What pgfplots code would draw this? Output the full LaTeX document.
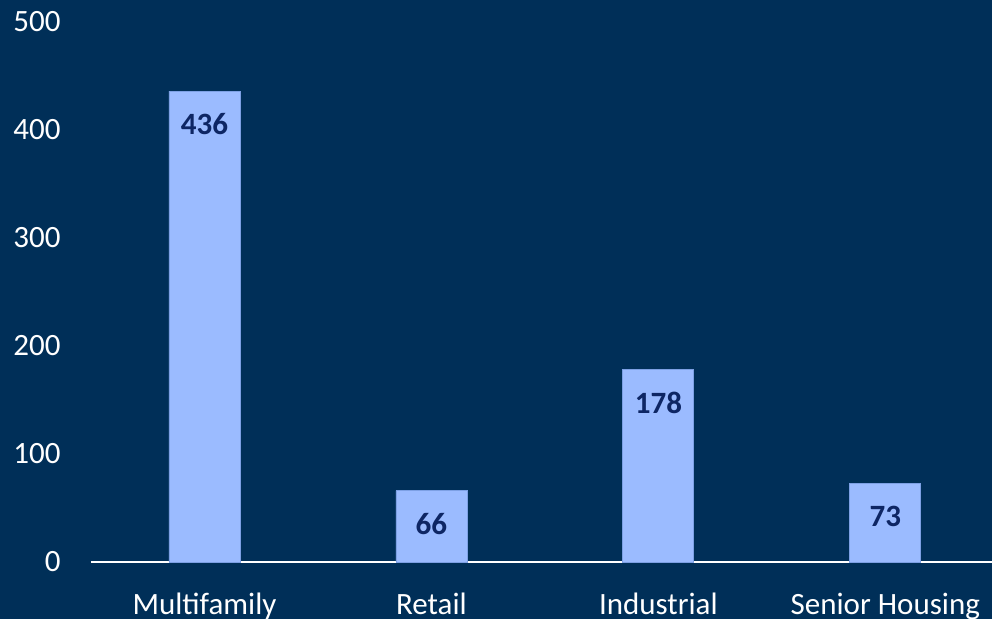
\documentclass[border=0pt]{standalone}
\usepackage{pgfplots}
\pgfplotsset{compat=1.18}
\usepackage{fontspec}
\setmainfont{Carlito}
\definecolor{bgnavy}{RGB}{0,47,88}
\definecolor{barfill}{RGB}{155,187,255}
\definecolor{baredge}{RGB}{125,160,228}
\definecolor{lblnavy}{RGB}{14,38,100}
\begin{document}
\begin{tikzpicture}
\fill[bgnavy] (0,0) rectangle (496pt,309.5pt);
\begin{axis}[
    at={(45.5pt,28.5pt)}, anchor=south west,
    scale only axis,
    width=450.5pt, height=270pt,
    ybar, bar width=35.5pt, bar shift=0pt,
    xmin=-0.5, xmax=3.47,
    ymin=0, ymax=500,
    xtick={0,1,2,3},
    xticklabels={Multifamily, Retail, Industrial, Senior Housing},
    ytick={0,100,200,300,400,500},
    major tick length=0pt,
    axis x line*=bottom, axis y line*=left,
    x axis line style={white, line width=1pt, -},
    y axis line style={draw=none},
    /pgf/number format/assume math mode=true,
    ticklabel style={font=\fontsize{15.5}{18}\selectfont, text=white},
    yticklabel style={anchor=east, inner sep=0pt, xshift=-15pt},
    xticklabel style={anchor=north, inner sep=0pt, yshift=-15.5pt},
    clip=false,
    nodes near coords,
    every node near coord/.append style={anchor=center, yshift=-16.5pt,
        font=\fontsize{15.5}{18}\selectfont\bfseries, text=lblnavy},
]
\addplot[fill=barfill, draw=baredge, line width=0.4pt]
    coordinates {(0,436) (1,66) (2,178) (3,73)};
\end{axis}
\pgfresetboundingbox
\useasboundingbox (0,0) rectangle (496pt,309.5pt);
\end{tikzpicture}
\end{document}
